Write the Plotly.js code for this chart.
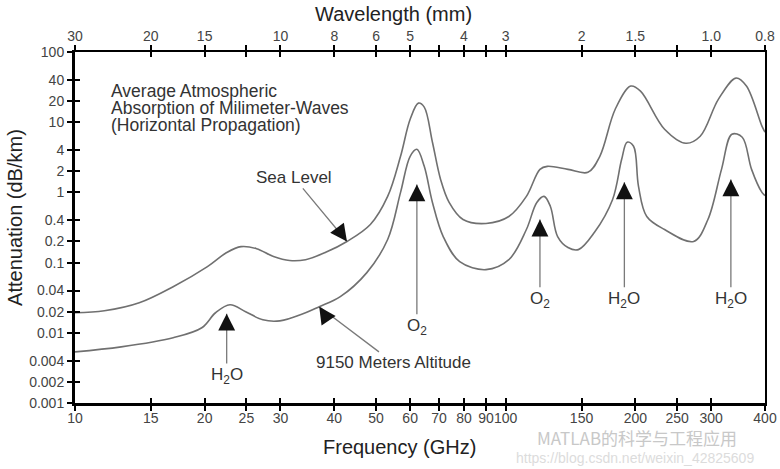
<!DOCTYPE html>
<html>
<head>
<meta charset="utf-8">
<script src="https://cdn.plot.ly/plotly-3.0.1.min.js"></script>
<style>html,body{margin:0;padding:0;background:#fff}#chart{width:780px;height:469px}</style>
</head>
<body>
<div id="chart"></div>
<script>
// ---- data ----
const freqSea = [10, 11.7, 14.1, 16.9, 20.3, 22.5, 24.3, 26.4, 28.9, 31.5, 34.3, 38.1, 42.8, 48.5, 53.2, 57.0, 60, 62.7, 64.7, 67.6, 70.6, 73.9, 79.6, 90, 101.7, 111.7, 120.1, 124.9, 139.5, 155.2, 165.4, 179.6, 195.2, 205.6, 233.8, 262, 282.9, 311.9, 342.6, 362.2, 393.5, 400];
const attSea = [0.0193, 0.0206, 0.0268, 0.0454, 0.0877, 0.139, 0.169, 0.158, 0.122, 0.107, 0.110, 0.139, 0.2, 0.349, 0.877, 3.27, 11.0, 18.7, 16.4, 5.18, 1.53, 0.72, 0.411, 0.361, 0.454, 0.877, 2.13, 2.35, 2.13, 1.93, 3.27, 15.3, 32.7, 27.7, 7.94, 5.01, 6.31, 21.3, 42.5, 32.7, 8.77, 7.2];

const freqAlt = [10, 12.8, 16.9, 19.7, 21.2, 22.9, 24.9, 27.3, 29.9, 34.3, 36.9, 41.3, 47.6, 53.2, 57.0, 60, 62.2, 64.7, 67.6, 71.6, 78.2, 90, 101.7, 111.7, 118.1, 122.8, 127.0, 132.0, 139.5, 147.5, 160.6, 177.1, 185.9, 191.4, 198.1, 203.4, 212.6, 233.8, 273.1, 294.8, 317.0, 335.1, 354.2, 372.3, 393.5, 400];
const attAlt = [0.00535, 0.0063, 0.0085, 0.0118, 0.0193, 0.0251, 0.02, 0.0153, 0.0148, 0.0193, 0.0235, 0.0327, 0.072, 0.213, 1.0, 3.27, 4.11, 2.35, 0.72, 0.235, 0.103, 0.0794, 0.110, 0.296, 0.72, 0.877, 0.631, 0.235, 0.164, 0.153, 0.268, 0.794, 2.96, 5.18, 4.54, 1.22, 0.454, 0.296, 0.2, 0.411, 2.13, 6.74, 6.11, 2.13, 1.0, 0.9];

const freqTicks = [10, 15, 20, 25, 30, 40, 50, 60, 70, 80, 90, 100, 150, 200, 250, 300, 400];
const freqTickLabels = ['10', '15', '20', '25', '30', '40', '50', '60', '70', '80', '90', '100', '150', '200', '250', '300', '400'];
const waveTickLabels = ['30', '20', '15', '', '10', '8', '6', '5', '', '4', '', '3', '2', '1.5', '', '1.0', '0.8'];

const attTicks = [100, 40, 20, 10, 4, 2, 1, 0.4, 0.2, 0.1, 0.04, 0.02, 0.01, 0.004, 0.002, 0.001];
const attTickLabels = ['100', '40', '20', '10', '4', '2', '1', '0.4', '0.2', '0.1', '0.04', '0.02', '0.01', '0.004', '0.002', '0.001'];

// arrow callouts: label, frequency of tip, attenuation at tip, tail/label frequency, tail/label attenuation
const calloutLabels = ['Sea Level', '9150 Meters Altitude', 'H<sub>2</sub>O', 'O<sub>2</sub>', 'O<sub>2</sub>', 'H<sub>2</sub>O', 'H<sub>2</sub>O'];
const calloutTipFreq = [42.8, 36.9, 22.5, 62.2, 120.1, 188.6, 333.3];
const calloutTipAtt = [0.2, 0.0235, 0.0187, 1.30, 0.411, 1.39, 1.53];
const calloutLabelFreq = [32.2, 54.9, 22.5, 62.2, 120.1, 188.6, 333.3];
const calloutLabelAtt = [1.64, 0.00373, 0.00243, 0.0122, 0.0296, 0.0296, 0.0296];

// ---- chart ----
const FONT = 'Liberation Sans, Arial, Helvetica, sans-serif';
const lg = Math.log10;
const xr = [1, lg(400)];
const yr = [-3, 2];

const curveLine = {color: '#707070', width: 1.6, shape: 'spline', smoothing: 1};
const traces = [
  {x: freqSea, y: attSea, type: 'scatter', mode: 'lines', line: curveLine, hoverinfo: 'skip'},
  {x: freqAlt, y: attAlt, type: 'scatter', mode: 'lines', line: curveLine, hoverinfo: 'skip'}
];
// empty carrier traces so every overlay axis (top scale, crossing ticks, right frame) is drawn
[['x2', 'y'], ['x3', 'y'], ['x4', 'y'], ['x', 'y2'], ['x', 'y3']].forEach(p => {
  traces.push({x: [freqTicks[0], freqTicks[freqTicks.length - 1]], y: [attTicks[attTicks.length - 1], attTicks[0]],
    xaxis: p[0], yaxis: p[1], type: 'scatter', mode: 'none', hoverinfo: 'skip', showlegend: false});
});

const txt = '#333';
const annotations = [];
// text block
['Average Atmospheric', 'Absorption of Milimeter-Waves', '(Horizontal Propagation)'].forEach((s, i) => {
  annotations.push({xref: 'paper', yref: 'paper', x: 0.0493, y: [0.889, 0.840, 0.792][i], xanchor: 'left', yanchor: 'middle',
    text: s, showarrow: false, font: {family: FONT, size: 17.5, color: txt}});
});
// callouts (label + grey shaft)
for (let i = 0; i < calloutLabels.length; i++) {
  annotations.push({xref: 'x', yref: 'y', x: lg(calloutTipFreq[i]), y: lg(calloutTipAtt[i]),
    axref: 'x', ayref: 'y', ax: lg(calloutLabelFreq[i]), ay: lg(calloutLabelAtt[i]),
    text: calloutLabels[i], showarrow: true, arrowhead: 0, arrowwidth: 1.3, arrowcolor: '#7a7a7a',
    font: {family: FONT, size: 17, color: txt}});
}
// black arrow heads
const headDir = [[-8, -11], [8, 12], [0, 14], [0, 14], [0, 14], [0, 14], [0, 14]];
for (let i = 0; i < calloutLabels.length; i++) {
  annotations.push({xref: 'x', yref: 'y', x: lg(calloutTipFreq[i]), y: lg(calloutTipAtt[i]),
    ax: headDir[i][0], ay: headDir[i][1], text: ' ', font: {size: 1}, borderpad: 0, showarrow: true, arrowhead: 2, arrowsize: 1.3,
    arrowwidth: 2.6, arrowcolor: '#111'});
}
// axis titles
annotations.push({xref: 'paper', yref: 'paper', x: 0.461, y: 1.108, text: 'Wavelength (mm)', showarrow: false,
  font: {family: FONT, size: 20, color: '#222'}, xanchor: 'center', yanchor: 'middle'});
annotations.push({xref: 'paper', yref: 'paper', x: 0.470, y: -0.125, text: 'Frequency (GHz)', showarrow: false,
  font: {family: FONT, size: 20, color: '#222'}, xanchor: 'center', yanchor: 'middle'});
annotations.push({xref: 'paper', yref: 'paper', x: -0.087, y: 0.530, text: 'Attenuation (dB/km)', showarrow: false,
  textangle: -90, font: {family: FONT, size: 20, color: '#222'}, xanchor: 'center', yanchor: 'middle'});
// watermark
annotations.push({xref: 'paper', yref: 'paper', x: 0.814, y: -0.097, text: 'MATLAB的科学与工程应用', showarrow: false, borderpad: 0,
  font: {family: 'Noto Sans CJK SC, ' + FONT, size: 17, color: '#c8c8c8'}, xanchor: 'center', yanchor: 'middle'});
annotations.push({xref: 'paper', yref: 'paper', x: 0.812, y: -0.157, text: 'https://blog.csdn.net/weixin_42825609', showarrow: false, borderpad: 0,
  font: {family: FONT, size: 14, color: '#dcdcdc'}, xanchor: 'center', yanchor: 'middle'});

const tickFont = {family: FONT, size: 14, color: '#444'};
const baseX = {type: 'log', range: xr, tickmode: 'array', tickvals: freqTicks, showgrid: false, zeroline: false,
  ticklen: 5, tickwidth: 2, tickcolor: '#000', tickangle: 0, fixedrange: true};
const baseY = {type: 'log', range: yr, tickmode: 'array', tickvals: attTicks, showgrid: false, zeroline: false,
  ticklen: 5, tickwidth: 2, tickcolor: '#000', fixedrange: true};

const layout = {
  width: 780, height: 469,
  margin: {l: 75, r: 15, t: 52, b: 66},
  paper_bgcolor: '#fff', plot_bgcolor: '#fff',
  showlegend: false,
  font: {family: FONT},
  xaxis: Object.assign({}, baseX, {ticktext: freqTickLabels, ticks: 'outside', showline: true, linewidth: 3, linecolor: '#000',
    tickfont: tickFont, ticklabelstandoff: -5, anchor: 'y', side: 'bottom'}),
  xaxis3: Object.assign({}, baseX, {ticks: 'inside', showticklabels: false, showline: false, overlaying: 'x', anchor: 'y', side: 'bottom'}),
  xaxis2: Object.assign({}, baseX, {ticktext: waveTickLabels, ticks: 'outside', showline: true, linewidth: 2, linecolor: '#000',
    tickfont: tickFont, ticklabelstandoff: -2, overlaying: 'x', anchor: 'y', side: 'top'}),
  xaxis4: Object.assign({}, baseX, {ticks: 'inside', showticklabels: false, showline: false, overlaying: 'x', anchor: 'y', side: 'top'}),
  yaxis: Object.assign({}, baseY, {ticktext: attTickLabels, ticks: 'outside', showline: true, linewidth: 3, linecolor: '#000',
    tickfont: tickFont, anchor: 'x', side: 'left'}),
  yaxis2: Object.assign({}, baseY, {ticks: 'inside', showticklabels: false, showline: false, overlaying: 'y', anchor: 'x', side: 'left'}),
  yaxis3: Object.assign({}, baseY, {ticks: '', showticklabels: false, showline: true, linewidth: 2, linecolor: '#000', overlaying: 'y', anchor: 'x', side: 'right'}),
  annotations: annotations
};

Plotly.newPlot('chart', traces, layout, {displayModeBar: false, staticPlot: true});
</script>
</body>
</html>
